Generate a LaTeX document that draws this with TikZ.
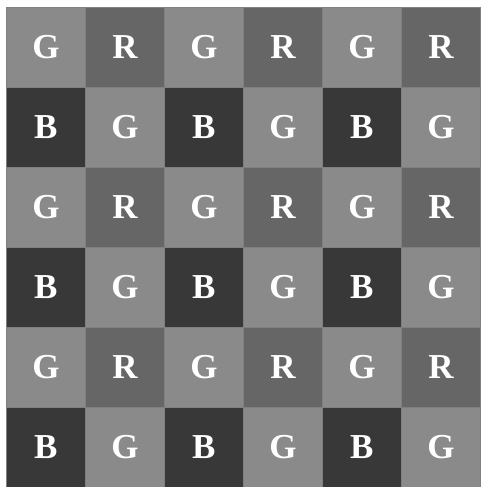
\documentclass[tikz,border=0pt]{standalone}
\usepackage{fontspec}
\setmainfont{Liberation Serif}
\usetikzlibrary{positioning}
\definecolor{grisG}{gray}{0.54}
\definecolor{grisR}{gray}{0.40}
\definecolor{grisB}{gray}{0.22}
\definecolor{bordeCelda}{gray}{0.50}

\begin{document}
\begin{tikzpicture}[
  x=1pt, y=-1pt,
  celda/.style={draw=bordeCelda, line width=0.8pt, anchor=north west,
                minimum width=79pt, minimum height=80pt, inner sep=0pt,
                text=white, font=\fontsize{35}{35}\selectfont\bfseries}
]
\useasboundingbox (0,0) rectangle (480,487);

% Mosaico de Bayer: filas pares G/R, filas impares B/G.
\foreach \fila in {0,...,5}{
  \foreach \col in {0,...,5}{
    \pgfmathtruncatemacro{\tipo}{mod(\fila,2)*2+mod(\col,2)}
    \ifcase\tipo \def\letra{G}\or \def\letra{R}\or \def\letra{B}\or \def\letra{G}\fi
    \node[celda, fill=gris\letra] (c\fila\col) at ({6+79*\col},{7+80*\fila}) {\letra};
  }
}

\end{tikzpicture}
\end{document}
